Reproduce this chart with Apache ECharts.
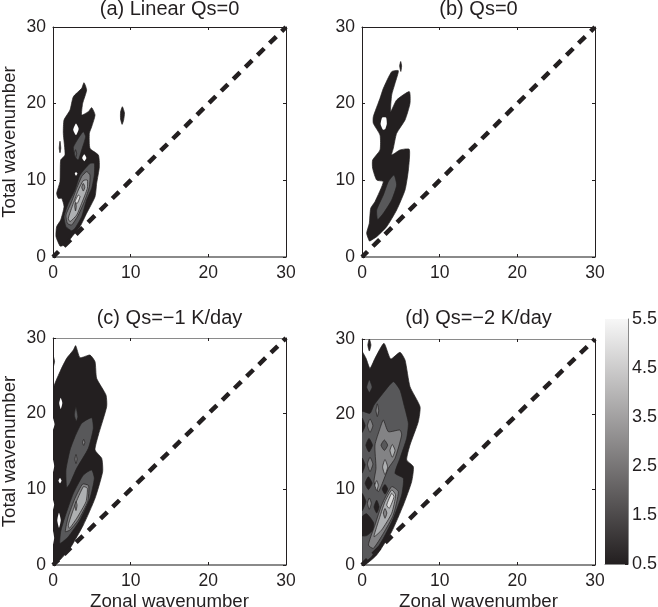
<!DOCTYPE html>
<html><head><meta charset="utf-8">
<style>html,body{margin:0;padding:0;background:#fff}#c{width:658px;height:607px}</style>
<script src="https://cdn.jsdelivr.net/npm/echarts@6/dist/echarts.min.js"></script>
</head><body><div id="c"></div>
<script>
// Tick labels and titles
const titles = ['(a) Linear Qs=0', '(b) Qs=0', '(c) Qs=\u22121 K/day', '(d) Qs=\u22122 K/day'];
const colorbarTop = [5.5];
const levelColors = ['#ffffff', '#231f20', '#58585a', '#838385', '#aeb0b2', '#dcdcdc'];
const diagonal = [[0, 0], [30, 30]];

// Filled contours as [zonal, total] outlines. Level 0 = below lowest contour (white)
const aLevel1 = [
 [[.9,1.43],[.39,2.65],[.47,3.96],[.99,4.83],[1.42,6.57],[1.12,7.65],[.69,7.65],[.47,8.3],[.9,9.83],[.99,12.65],[1.55,13.3],[1.33,16.13],[1.42,17.87],[2.19,19.17],[2.62,20.91],[3.69,22],[3.99,22.74],[4.33,21.78],[3.82,20.04],[3.69,18.52],[4.55,18.96],[4.98,19.48],[5.41,18.52],[4.98,17],[4.68,16.13],[4.76,14.17],[5.84,13.3],[5.97,11.78],[5.62,9.61],[5.41,7.87],[4.33,5.7],[3.48,3.96],[2.62,2.87],[1.76,1.78],[1.12,1.43]],
 [[.9,15.1],[1,14.2],[.9,13.6],[.8,14.2]],
 [[8.93,19.6],[9.2,18.8],[9.1,17.9],[8.9,17.3],[8.7,18],[8.7,18.9]]
];
const aHoles = [
 [[2.96,17.4],[3.3,16.7],[2.96,15.9],[2.6,16.6]],
 [[4.03,13.4],[4.3,12.9],[4.03,12.5],[3.75,12.9]],
 [[2.96,11.1],[3.15,10.9],[2.96,10.6],[2.8,10.9]]
];
const aLevel2 = [
 [[2.83,13.09],[2.62,14.3],[3.26,15.48],[3.9,16.35],[4.2,15.7],[3.69,13.96],[3.26,12.65]],
 [[2.4,3.43],[1.67,3.96],[1.42,5.26],[1.97,7],[2.83,8.74],[3.48,10.7],[4.76,12.2],[5.32,12.2],[5.32,10.7],[4.98,8.96],[4.33,7.43],[3.69,5.26],[2.83,3.74]],
 [[2.9,14],[3.05,13.5],[2.9,12.9],[2.75,13.5]]
];
const aLevel3 = [[[1.85,4.39],[1.67,5.48],[2.4,7.22],[3.05,8.96],[3.69,10.48],[4.33,11.13],[4.76,10.7],[4.68,9.17],[4.12,7.43],[3.26,5.48],[2.4,4.17]]];
const aLevel4 = [[[1.97,5.04],[2.62,7],[3.26,8.74],[3.9,9.96],[4.42,10.04],[4.42,8.96],[3.69,7],[3.05,5.48],[2.19,4.61]]];
const aSpots3 = [[[3.9,9.6],[4.1,9.1],[3.9,8.6],[3.7,9.1]],[[2.9,7.2],[3,6.6],[2.9,6],[2.8,6.6]]];
const aLevel5 = [[[2.83,7.22],[3.26,8.09],[3.48,7.87],[3.13,7]]];

const bLevel1 = [
 [[.94,2.09],[.6,3.09],[.94,4.39],[1.12,6.35],[1.67,7.22],[2.75,9.83],[1.89,10.04],[1.37,11.57],[1.37,12.65],[2.32,13.96],[2.32,15.91],[1.46,17.43],[1.46,18.3],[2.32,20.7],[2.75,22],[3.82,24.17],[4.68,24.3],[4.25,22.65],[3.82,21.13],[3.69,18.96],[4.46,20.48],[6.09,21.57],[6.18,20.04],[5.54,17.87],[4.46,16.13],[4.03,14.17],[3.82,13.3],[4.89,13.96],[6.09,14.04],[5.97,11.35],[5.54,8.74],[4.46,6.13],[3.18,3.96],[1.89,2.65],[1.03,2.09]],
 [[4.98,25.5],[5.1,24.9],[5,24.2],[4.85,24.9]]
];
const bHoles = [[[2.6,18.2],[3.1,18.2],[3.2,17.4],[3,16.7],[2.7,16.6],[2.4,17.3]]];
const bLevel2 = [[[1.97,4.91],[1.89,6.13],[2.75,8.09],[3.39,9.83],[4.12,10.7],[4.46,9.39],[3.82,7.43],[2.75,5.7],[2.1,4.91]]];

const cLevel1 = [
 [[0,0],[0,23.13],[.9,25.55],[1.76,27.31],[2.62,28.41],[2.92,28.99],[3.48,27.4],[4.76,27.75],[5.41,26.87],[5.62,24.67],[6.82,22.47],[6.91,20.93],[5.84,17.18],[5.41,15.2],[6.27,14.1],[6.39,12.33],[5.41,8.81],[3.91,5.29],[2.19,2.2],[.69,.44]],
 [[0,27.7],[.2,26.9],[0,26.1]]
];
const cHoles = [
 [[.99,22.1],[1.2,21.4],[.99,20.6],[.8,21.4]],
 [[.9,11.5],[1.1,11.15],[.9,10.8],[.7,11.15]],
 [[.77,6.9],[1,5.9],[.77,4.9],[.55,5.9]],
 [[0,19.4],[.2,18.6],[0,17.9]],
 [[0,13.9],[.15,13.1],[0,12.3]],
 [[0,8.6],[.15,8],[0,7.3]],
 [[0,4.5],[.15,3.6],[0,2.7]]
];
const cLevel2 = [
 [[1.76,10.22],[1.67,12.56],[2.19,15.2],[2.83,16.96],[3.69,18.72],[4.98,19.47],[5.19,18.06],[4.55,15.42],[3.05,12.78],[2.19,10.79]],
 [[2.95,20.9],[3.2,19.6],[3,19],[2.75,19.8]],
 [[.9,2.86],[.99,4.41],[1.55,6.39],[2.62,9.47],[3.91,11.89],[4.98,12.56],[5.32,11.45],[4.76,8.81],[3.48,5.95],[1.97,3.74]]
];
const cLevel3 = [
 [[1.59,4.41],[1.97,6.39],[2.83,8.81],[3.82,10.7],[4.59,10.48],[4.46,8.37],[3.26,5.95],[2.19,4.63]],
 [[3.95,16.6],[4.1,16.2],[3.95,15.8],[3.8,16.2]],
 [[2.96,14.6],[3.1,14],[2.96,13.4],[2.82,14]]
];
const cLevel4 = [[[1.97,5.29],[2.83,7.93],[3.91,10.35],[4.42,10.13],[4.25,8.37],[3.05,6.17],[2.12,4.85]]];
const cSpots3 = [[[2.96,8.4],[3.1,7.9],[2.96,7.2],[2.82,7.8]]];

const dLevel1 = [
 [[0,0],[0,28.3],[.52,27.43],[1.03,26.1],[1.67,27.43],[2.83,29.42],[3.69,27.35],[4.89,28.23],[5.54,27.2],[6.18,23.67],[7.47,21.02],[7.25,19.03],[6.18,15.93],[5.75,13.94],[6.61,13.05],[6.39,11.06],[5.32,7.96],[3.82,4.42],[1.89,1.33],[.39,0]],
 [[.94,30],[1.15,29.2],[.94,28.4],[.75,29.2]]
];
const dLevel2 = [
 [[0,.44],[0,20.35],[1.03,20.13],[1.55,21.24],[2.53,22.57],[4.03,24.34],[4.89,23.23],[5.41,21.24],[5.97,18.81],[5.75,16.81],[4.89,14.16],[4.25,12.17],[5.32,11.5],[5.11,9.29],[4.03,6.19],[2.75,3.54],[1.24,1.11],[.17,.22]],
 [[.94,24.6],[1.3,23.6],[.94,22.9],[.6,23.6]]
];
const dDarkSpots = [
 [[0,6.4],[.6,6.8],[1.5,5.6],[1.4,4.6],[.6,3.9],[0,3.9]],
 [[1.89,8.6],[2.2,7.7],[1.89,6.9],[1.55,7.7]],
 [[.82,11.7],[1.3,10.84],[.82,10],[.4,10.84]],
 [[2.96,10.7],[3.3,10.1],[2.96,9.4],[2.6,10.1]],
 [[.9,16.8],[1.35,15.9],[.9,15],[.5,15.9]],
 [[0,19.5],[.4,18.5],[0,17.6]],
 [[0,14.2],[.4,13.3],[0,12.2]],
 [[0,9.5],[.5,8.4],[0,7.2]]
];
const dLevel3 = [
 [[2.75,19.25],[3.39,17.7],[4.89,17.92],[5.11,17.26],[4.25,14.16],[3.39,12.83],[2.53,10.62],[2.1,9.73],[1.55,11.06],[1.8,12.83],[1.67,15.93],[2.32,18.14]],
 [[1.03,19.4],[1.4,18.5],[1.03,17.6],[.7,18.5]],
 [[1.03,14.3],[1.4,13.4],[1.03,12.4],[.7,13.4]],
 [[.94,8.9],[1.2,8.2],[.94,7.4],[.7,8.2]],
 [[1.97,21.4],[2.15,20.5],[1.97,19.7],[1.8,20.5]],
 [[.82,2.65],[1.67,5.31],[2.53,7.96],[3.82,10.4],[4.68,9.73],[4.03,6.64],[2.75,4.2],[1.46,2.21]]
];
const dSpots2 = [[[2.88,16.6],[3.3,15.9],[2.88,15.2],[2.45,15.9]]];
const dLevel4 = [
 [[3.9,16],[4.25,15.2],[3.9,14.3],[3.6,15.2]],
 [[2.96,14],[3.3,13],[2.96,12],[2.65,13]],
 [[1.89,11.2],[2.1,10.6],[1.89,9.9],[1.65,10.6]],
 [[1.55,3.76],[2.1,5.75],[2.96,8.41],[3.82,9.96],[4.33,9.29],[3.82,6.86],[2.53,4.65]]
];
const dLevel5 = [[[3.18,7.96],[3.82,9.51],[4.12,9.07],[3.52,7.52]]];
const dSpots3 = [[[2.96,7.5],[3.2,6.9],[2.96,6.2],[2.75,6.9]]];

const panelLayers = [
 [[1,aLevel1],[0,aHoles],[2,aLevel2],[3,aLevel3],[4,aLevel4],[3,aSpots3],[5,aLevel5]],
 [[1,bLevel1],[0,bHoles],[2,bLevel2]],
 [[1,cLevel1],[0,cHoles],[2,cLevel2],[3,cLevel3],[4,cLevel4],[3,cSpots3]],
 [[1,dLevel1],[2,dLevel2],[1,dDarkSpots],[3,dLevel3],[2,dSpots2],[4,dLevel4],[5,dLevel5],[3,dSpots3]]
];

// Layout
const boxes = [
 {left:53, top:27, width:233, height:230, topLine:'#231f20', titleTop:-1},
 {left:362, top:27, width:233, height:230, topLine:'#231f20', titleTop:-1},
 {left:53, top:338, width:233, height:227, topLine:'#8a8a8a', titleTop:308},
 {left:362, top:339, width:233, height:226, topLine:'#8a8a8a', titleTop:308}
];
const ink = '#231f20', font = 'Liberation Sans';
const chart = echarts.init(document.getElementById('c'), null, {renderer:'canvas'});
const grid = [], xAxis = [], yAxis = [], series = [], title = [];

boxes.forEach((b, i) => {
  grid.push({left:b.left, top:b.top, width:b.width, height:b.height, containLabel:false, outerBoundsMode:'none'});
  title.push({text:titles[i], left:b.left + b.width/2, top:b.titleTop, textAlign:'center', padding:0,
    textStyle:{fontFamily:font, fontSize:20, fontWeight:'normal', color:ink}});
  const base = {min:0, max:30, interval:10, type:'value', gridIndex:i, splitLine:{show:false}};
  const tick = c => ({show:true, inside:true, length:3, lineStyle:{color:c, width:1}});
  xAxis.push({...base, position:'bottom',
    name: i >= 2 ? 'Zonal wavenumber' : '', nameLocation:'middle', nameGap:27,
    nameTextStyle:{fontFamily:font, fontSize:18.7, color:ink},
    axisLine:{show:true, onZero:false, lineStyle:{color:'#8a8a8a', width:2}},
    axisTick:tick(ink),
    axisLabel:{fontFamily:font, fontSize:17.5, color:ink, margin:7, showMinLabel:true, showMaxLabel:true}});
  xAxis.push({...base, position:'top',
    axisLine:{show:true, onZero:false, lineStyle:{color:b.topLine, width:1}},
    axisTick:tick(ink), axisLabel:{show:false}});
  yAxis.push({...base, position:'left',
    name: i % 2 === 0 ? 'Total wavenumber' : '', nameLocation:'middle', nameGap:34, nameRotate:90,
    nameTextStyle:{fontFamily:font, fontSize:18.7, color:ink},
    axisLine:{show:true, onZero:false, lineStyle:{color:ink, width:1}},
    axisTick:tick(ink),
    axisLabel:{fontFamily:font, fontSize:17.5, color:ink, margin:7, showMinLabel:true, showMaxLabel:true}});
  yAxis.push({...base, position:'right',
    axisLine:{show:true, onZero:false, lineStyle:{color:ink, width:1}},
    axisTick:tick(ink), axisLabel:{show:false}});

  panelLayers[i].forEach(([level, polys], li) => {
    series.push({
      type:'custom', xAxisIndex:2*i, yAxisIndex:2*i, z:2+li*0.01, silent:true, clip:true,
      data:polys.map((_, k) => [k]),
      renderItem:(params, api) => ({
        type:'polygon',
        shape:{points:polys[api.value(0)].map(p => api.coord(p)), smooth:0.18},
        style:{fill:levelColors[level], stroke:level === 0 ? 'none' : ink, lineWidth:0.7}
      })
    });
  });
  series.push({type:'line', xAxisIndex:2*i, yAxisIndex:2*i, data:diagonal, z:5, symbol:'none', silent:true,
    lineStyle:{color:ink, width:4.5, type:[9.5,7.5], dashOffset:1.7, cap:'butt'}});
});

// Colour bar
grid.push({left:605, top:319, width:23, height:245, outerBoundsMode:'none'});
xAxis.push({type:'category', gridIndex:4, data:[''], axisLine:{show:true, lineStyle:{color:'#8a8a8a', width:1}}, axisTick:{show:false}, axisLabel:{show:false}});
yAxis.push({type:'value', gridIndex:4, min:0.5, max:5.5, interval:1, position:'right', splitLine:{show:false},
  axisLine:{show:true, onZero:false, lineStyle:{color:'#8a8a8a', width:1}},
  axisTick:{show:true, inside:true, length:3, lineStyle:{color:ink}},
  axisLabel:{fontFamily:font, fontSize:18, color:ink, margin:4, showMinLabel:true, showMaxLabel:true}});
series.push({type:'bar', xAxisIndex:8, yAxisIndex:8, data:colorbarTop, barWidth:'100%', silent:true,
  itemStyle:{color:new echarts.graphic.LinearGradient(0,0,0,1,[{offset:0,color:'#f7f7f7'},{offset:1,color:'#231f20'}])}});

chart.setOption({animation:false, backgroundColor:'#fff', title, grid, xAxis, yAxis, series});
</script></body></html>
